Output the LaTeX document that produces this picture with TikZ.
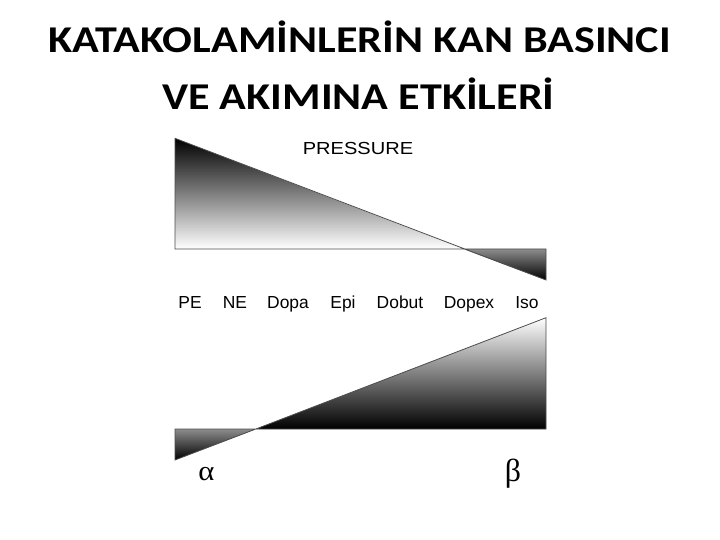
\documentclass[tikz,border=0pt]{standalone}
\usepackage{fontspec}
\setmainfont{Liberation Sans}
\newfontfamily\titlefont{Carlito}
\newfontfamily\greekfont{Liberation Serif}

\begin{document}
\begin{tikzpicture}[x=1bp, y=-1bp]
    \useasboundingbox (0,0) rectangle (720,540);

    % Title
    \node at (359.5, 52.3) [anchor=base, xscale=1.165] {\titlefont\bfseries\fontsize{38}{44}\selectfont KATAKOLAMİNLERİN KAN BASINCI};
    \node at (358.5, 109.3) [anchor=base, xscale=1.165] {\titlefont\bfseries\fontsize{38}{44}\selectfont VE AKIMINA ETKİLERİ};

    % Pressure wedge
    \coordinate (ptop) at (175, 138.3);
    \coordinate (pleft) at (175, 249);
    \coordinate (pcross) at (463, 249);
    \coordinate (pright) at (546, 249);
    \coordinate (pbottom) at (546, 280);

    \shade[top color=black, bottom color=white] (ptop) -- (pleft) -- (pcross) -- cycle;
    \shade[top color=black!45, bottom color=black] (pcross) -- (pright) -- (pbottom) -- cycle;
    \draw[black!70, line width=0.8bp] (ptop) -- (pleft) -- (pright) -- (pbottom) -- cycle;

    \node at (358, 154.3) [anchor=base, xscale=1.15] {\fontsize{17.5}{20}\selectfont PRESSURE};

    % Drugs
    \node at (190, 308.3) [anchor=base] {\fontsize{17.5}{20}\selectfont PE};
    \node at (235, 308.3) [anchor=base] {\fontsize{17.5}{20}\selectfont NE};
    \node at (288, 308.3) [anchor=base] {\fontsize{17.5}{20}\selectfont Dopa};
    \node at (343, 308.3) [anchor=base] {\fontsize{17.5}{20}\selectfont Epi};
    \node at (400, 308.3) [anchor=base] {\fontsize{17.5}{20}\selectfont Dobut};
    \node at (469, 308.3) [anchor=base] {\fontsize{17.5}{20}\selectfont Dopex};
    \node at (527, 308.3) [anchor=base] {\fontsize{17.5}{20}\selectfont Iso};

    % Flow wedge
    \coordinate (fleft) at (175, 429);
    \coordinate (fbottom) at (175, 460);
    \coordinate (fcross) at (256, 429);
    \coordinate (fright) at (546, 429);
    \coordinate (ftop) at (546, 317.7);

    \shade[top color=black!45, bottom color=black] (fleft) -- (fcross) -- (fbottom) -- cycle;
    \shade[top color=white, bottom color=black] (fcross) -- (fright) -- (ftop) -- cycle;
    \draw[black!70, line width=0.8bp] (fbottom) -- (fleft) -- (fright) -- (ftop) -- cycle;

    \node at (206.5, 480) [anchor=base, xscale=1.1] {\greekfont\fontsize{28}{32}\selectfont α};
    \node at (513, 481) [anchor=base] {\greekfont\fontsize{32}{36}\selectfont β};
\end{tikzpicture}
\end{document}
